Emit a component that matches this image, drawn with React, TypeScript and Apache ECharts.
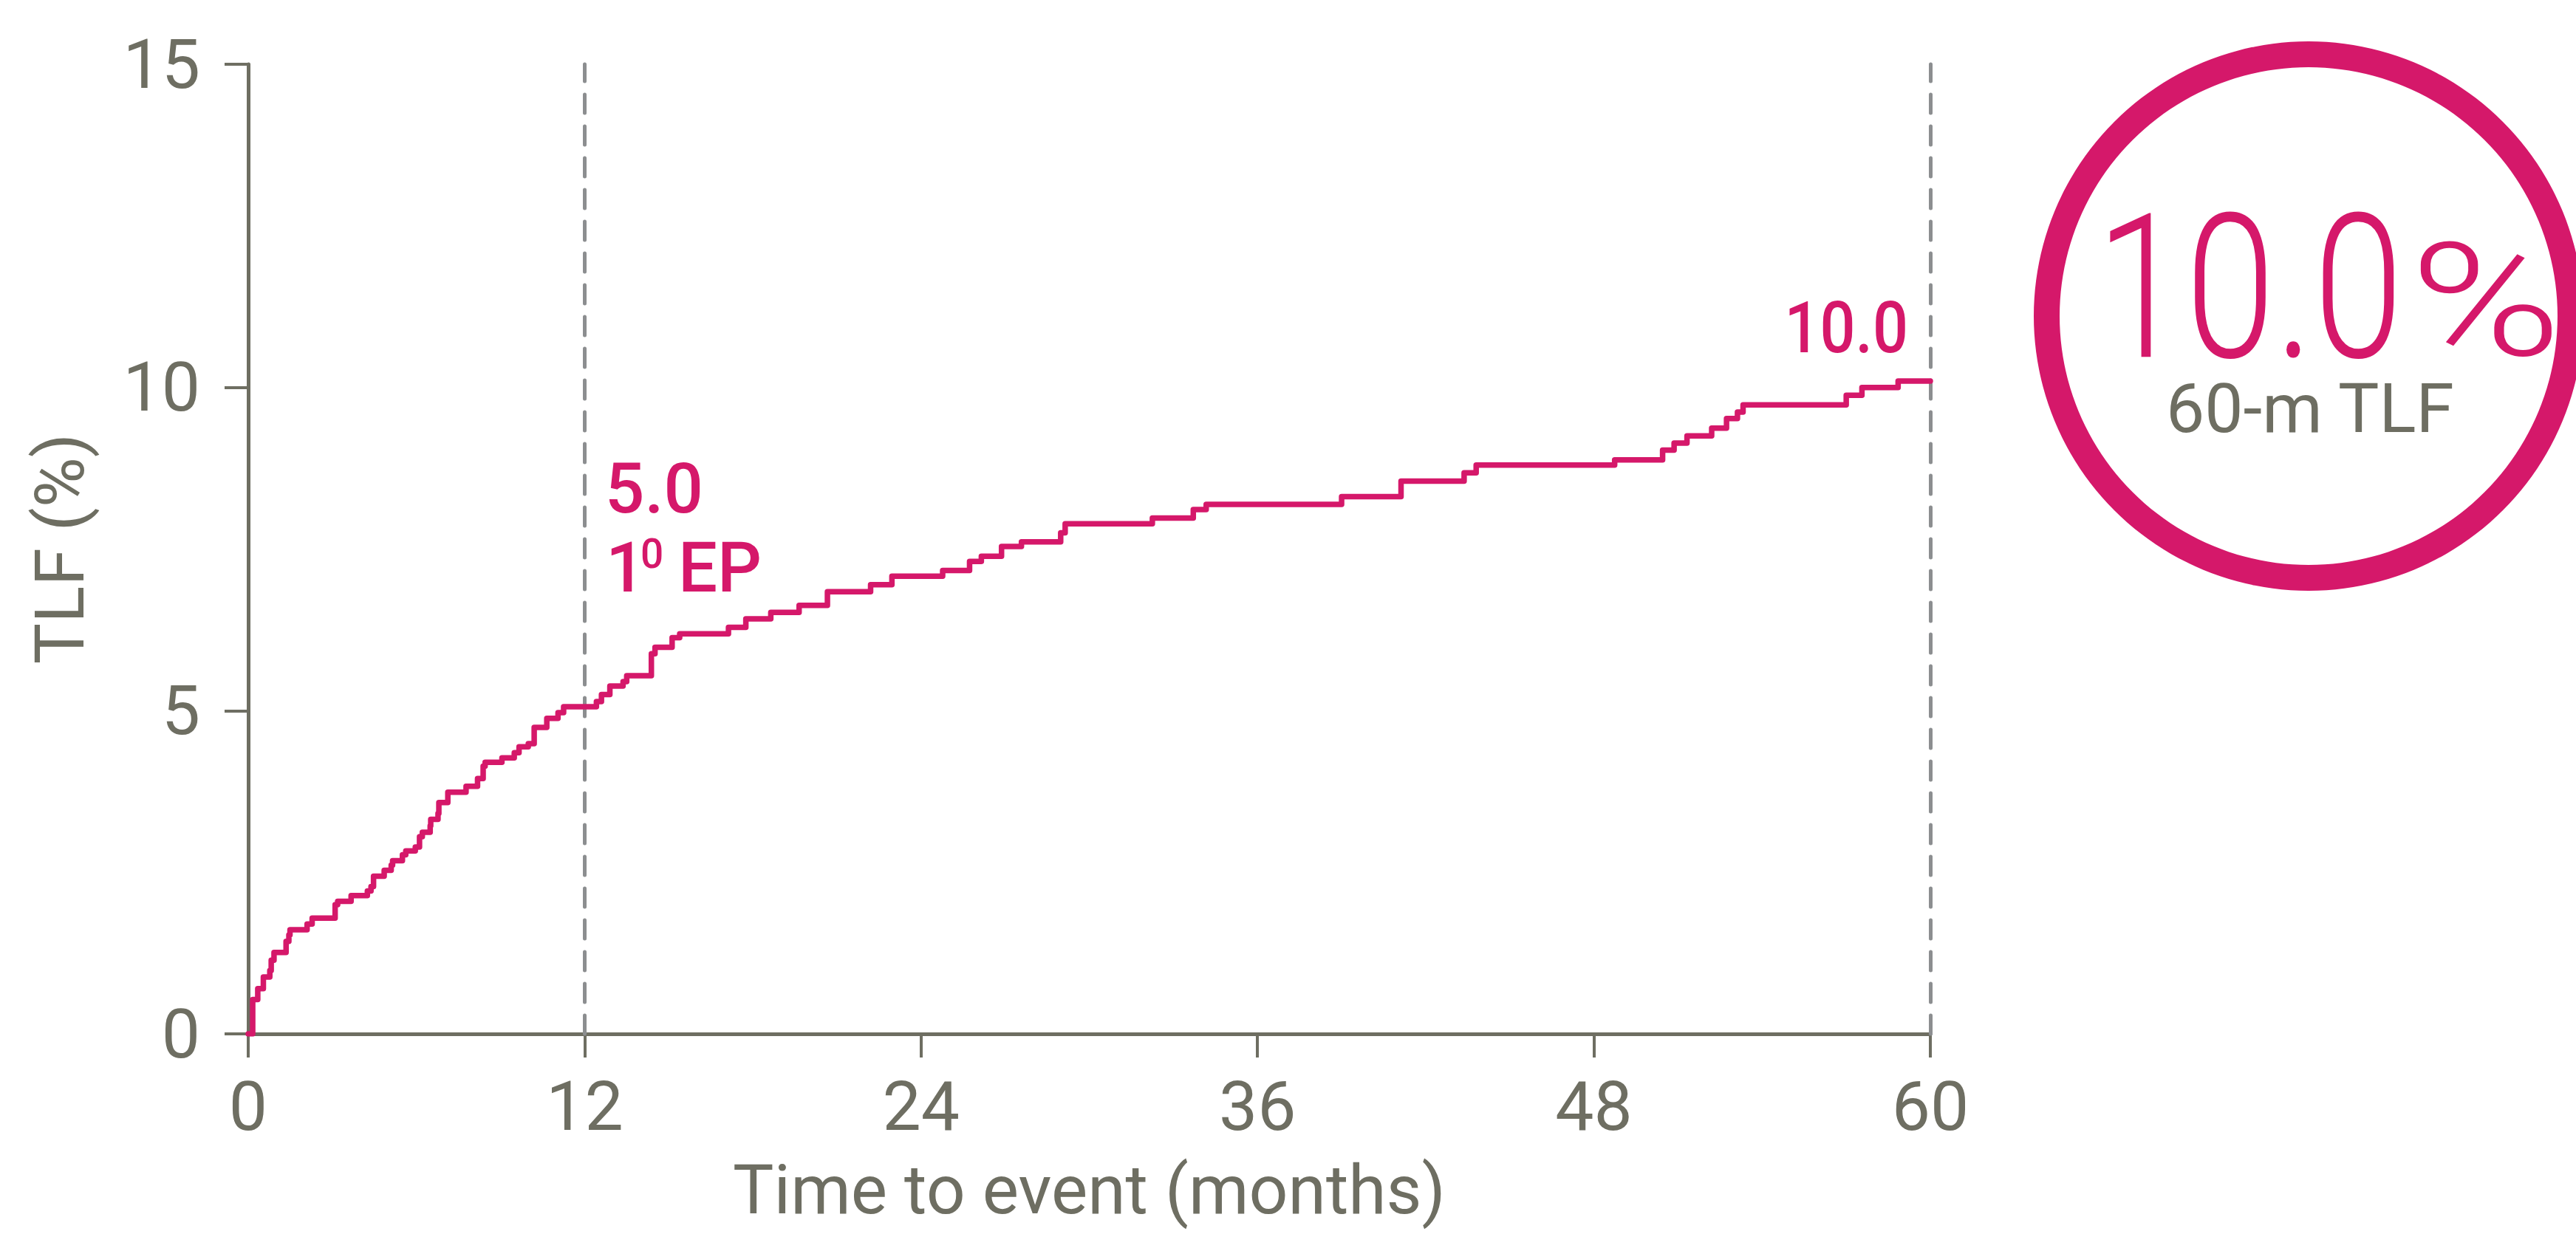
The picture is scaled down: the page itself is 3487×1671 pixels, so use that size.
import React, { useEffect, useRef } from 'react';
import * as echarts from 'echarts';

// ---- data ----
const timeMonths = [
  0, 0.16, 0.34, 0.54, 0.77, 0.82, 0.92, 1.35, 1.45, 1.49, 2.1, 2.28, 3.1, 3.19, 3.67,
  4.25, 4.38, 4.47, 4.85, 5.1, 5.15, 5.5, 5.62, 5.96, 6.11, 6.21, 6.49, 6.51, 6.77, 6.8,
  7.12, 7.77, 8.18, 8.38, 8.45, 9.05, 9.49, 9.66, 9.99, 10.2, 10.65, 11.05, 11.25,
  12.42, 12.6, 12.9, 13.37, 13.5, 14.38, 14.51, 15.12, 15.39, 17.13, 17.75, 18.64,
  19.65, 20.66, 22.2, 22.96, 24.77, 25.73, 26.15, 26.87, 27.58, 28.98, 29.14, 32.25,
  33.71, 34.17, 39.0, 41.12, 43.37, 43.8, 48.74, 50.45, 50.86, 51.32, 52.2, 52.73,
  53.12, 53.32, 57.0, 57.56, 58.85, 60.0,
];
const tlfPercent = [
  0, 0.53, 0.7, 0.88, 0.98, 1.14, 1.26, 1.43, 1.53, 1.61, 1.7, 1.79, 2.0, 2.05, 2.14,
  2.21, 2.28, 2.44, 2.53, 2.61, 2.68, 2.77, 2.83, 2.89, 3.05, 3.12, 3.22, 3.32, 3.41, 3.58,
  3.74, 3.83, 3.95, 4.14, 4.2, 4.27, 4.35, 4.44, 4.49, 4.74, 4.88, 4.97, 5.06,
  5.14, 5.25, 5.38, 5.45, 5.54, 5.88, 5.98, 6.13, 6.19, 6.29, 6.42, 6.52,
  6.63, 6.84, 6.95, 7.08, 7.17, 7.31, 7.39, 7.54, 7.61, 7.75, 7.89, 7.98,
  8.11, 8.19, 8.31, 8.55, 8.68, 8.8, 8.88, 9.03, 9.14, 9.25, 9.37, 9.52,
  9.62, 9.73, 9.88, 10.0, 10.1, 10.1,
];
const markerMonths = [12, 60];
const xRange = [0, 60];
const xTickStep = 12;
const yRange = [0, 15];
const yTickStep = 5;
const xAxisTitle = 'Time to event (months)';
const yAxisTitle = 'TLF (%)';
const label12Value = '5.0';
const label12Sub = ['1', '0', 'EP'];
const label60Value = '10.0';
const headlineValue = '10.0';
const headlineUnit = '%';
const headlineCaption = '60-m TLF';

const MAGENTA = '#D5186A';
const AXIS_GRAY = '#6E6E62';
const DASH_GRAY = '#8C8E90';
const FONT = 'Roboto, "Noto Sans", sans-serif';

export default function App() {
  const ref = useRef<HTMLDivElement>(null);

  useEffect(() => {
    if (!ref.current) return;
    const chart = echarts.init(ref.current, undefined, { renderer: 'svg' });
    const data = timeMonths.map((t, i) => [t, tlfPercent[i]]);

    const axisCommon = {
      axisLine: { show: true, lineStyle: { color: AXIS_GRAY, width: 5 } },
      axisTick: { show: true, inside: false, length: 32, lineStyle: { color: AXIS_GRAY, width: 4 } },
      splitLine: { show: false },
    };

    const option: any = {
      animation: false,
      backgroundColor: '#ffffff',
      grid: { left: 336, top: 87, width: 2277, height: 1313, containLabel: false },
      xAxis: {
        type: 'value',
        min: xRange[0],
        max: xRange[1],
        interval: xTickStep,
        ...axisCommon,
        axisLabel: {
          margin: 52,
          color: AXIS_GRAY,
          fontFamily: FONT,
          fontSize: 93,
          lineHeight: 93,
        },
        name: xAxisTitle,
        nameLocation: 'middle',
        nameGap: 165,
        nameTextStyle: { color: AXIS_GRAY, fontFamily: FONT, fontSize: 93, lineHeight: 93 },
      },
      yAxis: {
        type: 'value',
        min: yRange[0],
        max: yRange[1],
        interval: yTickStep,
        ...axisCommon,
        axisLabel: {
          margin: 65,
          color: AXIS_GRAY,
          fontFamily: FONT,
          fontSize: 93,
          lineHeight: 93,
        },
      },
      series: [
        {
          type: 'line',
          data,
          step: 'end',
          showSymbol: false,
          symbol: 'none',
          lineStyle: { color: MAGENTA, width: 7.5, cap: 'round', join: 'round' },
          z: 3,
          markLine: {
            silent: true,
            symbol: ['none', 'none'],
            label: { show: false },
            lineStyle: { color: DASH_GRAY, width: 5, type: [25, 18], cap: 'round' },
            data: markerMonths.map((m) => ({ xAxis: m })),
            z: 2,
          },
        },
      ],
      graphic: [
        {
          type: 'text',
          x: 81,
          y: 743,
          rotation: Math.PI / 2,
          style: {
            text: yAxisTitle,
            fill: AXIS_GRAY,
            fontFamily: FONT,
            fontSize: 93,
            align: 'center',
            verticalAlign: 'middle',
          },
        },
        {
          type: 'text',
          x: 819,
          y: 662,
          style: {
            text: label12Value,
            fill: MAGENTA,
            fontFamily: FONT,
            fontWeight: 500,
            fontSize: 94,
            align: 'left',
            verticalAlign: 'middle',
          },
        },
        {
          type: 'text',
          x: 820,
          y: 769,
          style: {
            text: label12Sub[0],
            fill: MAGENTA,
            fontFamily: FONT,
            fontWeight: 500,
            fontSize: 94,
            align: 'left',
            verticalAlign: 'middle',
          },
        },
        {
          type: 'text',
          x: 867,
          y: 750,
          style: {
            text: label12Sub[1],
            fill: MAGENTA,
            fontFamily: FONT,
            fontWeight: 500,
            fontSize: 55,
            align: 'left',
            verticalAlign: 'middle',
          },
        },
        {
          type: 'text',
          x: 918,
          y: 769,
          style: {
            text: label12Sub[2],
            fill: MAGENTA,
            fontFamily: FONT,
            fontWeight: 500,
            fontSize: 94,
            align: 'left',
            verticalAlign: 'middle',
          },
        },
        {
          type: 'text',
          x: 2583,
          y: 444,
          scaleX: 0.88,
          style: {
            text: label60Value,
            fill: MAGENTA,
            fontFamily: FONT,
            fontWeight: 500,
            fontSize: 96,
            align: 'right',
            verticalAlign: 'middle',
          },
        },
        {
          type: 'ring',
          shape: { cx: 3125, cy: 428, r: 372, r0: 337 },
          style: { fill: MAGENTA },
        },
        {
          type: 'text',
          x: 3253,
          y: 390,
          scaleX: 0.8,
          style: {
            text: headlineValue,
            fill: MAGENTA,
            fontFamily: FONT,
            fontWeight: 300,
            fontSize: 273,
            align: 'right',
            verticalAlign: 'middle',
          },
        },
        {
          type: 'text',
          x: 3262,
          y: 408,
          scaleX: 1.3,
          style: {
            text: headlineUnit,
            fill: MAGENTA,
            fontFamily: FONT,
            fontWeight: 300,
            fontSize: 214,
            align: 'left',
            verticalAlign: 'middle',
          },
        },
        {
          type: 'text',
          x: 3127,
          y: 553,
          style: {
            text: headlineCaption,
            fill: AXIS_GRAY,
            fontFamily: FONT,
            fontSize: 93,
            align: 'center',
            verticalAlign: 'middle',
          },
        },
      ],
    };

    chart.setOption(option);
    return () => chart.dispose();
  }, []);

  return (
    <div
      ref={ref}
      style={{ position: 'absolute', left: 0, top: 0, width: 3487, height: 1671, background: '#fff' }}
    />
  );
}
